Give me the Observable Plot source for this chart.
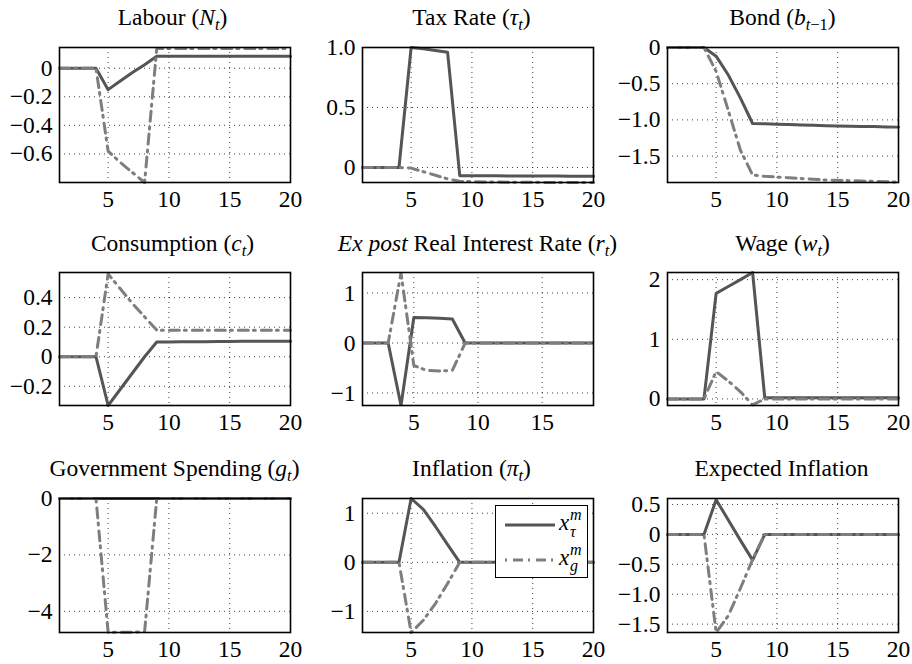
<!DOCTYPE html>
<html><head><meta charset="utf-8">
<script src="https://cdn.jsdelivr.net/npm/d3@7"></script>
<script src="https://cdn.jsdelivr.net/npm/@observablehq/plot@0.6"></script>
<style>
body{margin:0;background:#fff;}
#wrap{position:relative;width:912px;height:664px;overflow:hidden;font-family:"Liberation Serif",serif;color:#000;}
.title{position:absolute;font-size:23.5px;line-height:23.5px;white-space:nowrap;transform:translateX(-50%);}
.sub{font-size:0.7em;position:relative;top:0.32em;line-height:0;}
.panel{position:absolute;}
#legend{position:absolute;left:495px;top:505px;width:91px;height:71px;border:1.6px solid #000;background:#fff;}
.lg{position:absolute;font-style:italic;white-space:nowrap;}
</style></head><body><div id="wrap"></div><script>
// time periods
const periods = [1,2,3,4,5,6,7,8,9,10,11,12,13,14,15,16,17,18,19,20];
const xTicksStd = [5,10,15,20];

// series: x_tau^m (solid) and x_g^m (dash-dot)
const labourTau = [0,0,0,0,-0.15,-0.09,-0.03,0.025,0.083,0.083,0.083,0.083,0.083,0.083,0.083,0.083,0.083,0.083,0.083,0.083];
const labourG   = [0,0,0,0,-0.58,-0.66,-0.73,-0.80,0.138,0.138,0.138,0.138,0.138,0.138,0.138,0.138,0.138,0.138,0.138,0.138];

const taxTau = [0,0,0,0,1.0,0.99,0.975,0.96,-0.068,-0.068,-0.069,-0.069,-0.07,-0.07,-0.07,-0.071,-0.071,-0.072,-0.072,-0.072];
const taxG   = [0,0,0,0,-0.005,-0.035,-0.065,-0.095,-0.115,-0.118,-0.12,-0.121,-0.122,-0.123,-0.123,-0.124,-0.124,-0.125,-0.125,-0.125];

const bondTau = [0,0,0,0,-0.12,-0.38,-0.7,-1.05,-1.055,-1.06,-1.065,-1.07,-1.075,-1.08,-1.083,-1.087,-1.09,-1.093,-1.097,-1.1];
const bondG   = [0,0,0,0,-0.33,-0.87,-1.42,-1.76,-1.78,-1.79,-1.8,-1.81,-1.82,-1.83,-1.835,-1.84,-1.845,-1.85,-1.855,-1.86];

const consTau = [0,0,0,0,-0.33,-0.22,-0.11,0.0,0.1,0.1,0.101,0.102,0.102,0.103,0.103,0.104,0.104,0.105,0.105,0.105];
const consG   = [0,0,0,0,0.56,0.46,0.36,0.27,0.18,0.18,0.18,0.18,0.18,0.18,0.18,0.18,0.18,0.18,0.18,0.18];

const rateTau = [0,0,0,-1.25,0.51,0.505,0.495,0.48,0,0,0,0,0,0,0,0,0,0,0,0];
const rateG   = [0,0,0,1.4,-0.45,-0.55,-0.56,-0.55,0,0,0,0,0,0,0,0,0,0,0,0];

const wageTau = [0,0,0,0,1.77,1.885,2.0,2.12,0.02,0.02,0.02,0.02,0.02,0.02,0.02,0.02,0.02,0.02,0.02,0.02];
const wageG   = [0,0,0,0,0.46,0.3,0.12,-0.1,0,0,0,0,0,0,0,0,0,0,0,0];

const govTau = [0,0,0,0,0,0,0,0,0,0,0,0,0,0,0,0,0,0,0,0];
const govG   = [0,0,0,0,-4.74,-4.74,-4.74,-4.72,0,0,0,0,0,0,0,0,0,0,0,0];

const inflTau = [0,0,0,0,1.3,1.08,0.73,0.36,0,0,0,0,0,0,0,0,0,0,0,0];
const inflG   = [0,0,0,0,-1.43,-1.18,-0.84,-0.43,0,0,0,0,0,0,0,0,0,0,0,0];

const expTau = [0,0,0,0,0.58,0.24,-0.1,-0.43,0,0,0,0,0,0,0,0,0,0,0,0];
const expG   = [0,0,0,0,-1.64,-1.36,-0.9,-0.42,0,0,0,0,0,0,0,0,0,0,0,0];

// titles
const titles = [
  'Labour (<i>N</i><span class="sub"><i>t</i></span>)',
  'Tax Rate (<i>τ</i><span class="sub"><i>t</i></span>)',
  'Bond (<i>b</i><span class="sub"><i>t</i>−1</span>)',
  'Consumption (<i>c</i><span class="sub"><i>t</i></span>)',
  '<i>Ex post</i> Real Interest Rate (<i>r</i><span class="sub"><i>t</i></span>)',
  'Wage (<i>w</i><span class="sub"><i>t</i></span>)',
  'Government Spending (<i>g</i><span class="sub"><i>t</i></span>)',
  'Inflation (<i>π</i><span class="sub"><i>t</i></span>)',
  'Expected Inflation'
];
const titleShift = [-2, -6, 0, -2, 0, 0, 0, -6, -1];

const fmt1 = d => d === 0 ? "0" : d3.format(".1f")(d);
const fmt0 = d => d3.format("d")(d);

const colLeft = [59, 362, 667];
const rowTop = [47, 272, 498];
const rowH = [135, 133, 134];
const titleBase = [25, 251, 476];
const FW = 231;
const ML = 62, MR = 8, MT = 10, MB = 42;

const panels = [
  {tau: labourTau, g: labourG, yDomain: [-0.80, 0.145], yTicks: [-0.6,-0.4,-0.2,0], fmt: fmt1},
  {tau: taxTau, g: taxG, yDomain: [-0.125, 1.0], yTicks: [0,0.5,1.0], fmt: fmt1},
  {tau: bondTau, g: bondG, yDomain: [-1.865, 0], yTicks: [-1.5,-1.0,-0.5,0], fmt: fmt1},
  {tau: consTau, g: consG, yDomain: [-0.33, 0.57], yTicks: [-0.2,0,0.2,0.4], fmt: fmt1},
  {tau: rateTau, g: rateG, yDomain: [-1.25, 1.41], yTicks: [-1,0,1], fmt: fmt0, xDomain: [1,19], xTicks: [5,10,15], clip: true},
  {tau: wageTau, g: wageG, yDomain: [-0.11, 2.12], yTicks: [0,1,2], fmt: fmt0},
  {tau: govTau, g: govG, yDomain: [-4.75, 0], yTicks: [-4,-2,0], fmt: fmt0},
  {tau: inflTau, g: inflG, yDomain: [-1.43, 1.3], yTicks: [-1,0,1], fmt: fmt0},
  {tau: expTau, g: expG, yDomain: [-1.64, 0.6], yTicks: [-1.5,-1.0,-0.5,0,0.5], fmt: fmt1}
];

const wrap = document.getElementById("wrap");

panels.forEach((p, k) => {
  const r = Math.floor(k / 3), c = k % 3;
  const H = rowH[r];
  const xTicks = p.xTicks || xTicksStd;
  const xDomain = p.xDomain || [1, 20];
  const grid = {stroke: "#000", strokeOpacity: 0.75, strokeWidth: 1, strokeDasharray: "1,4"};
  const chart = Plot.plot({
    width: ML + FW + MR, height: MT + H + MB,
    marginLeft: ML, marginRight: MR, marginTop: MT, marginBottom: MB,
    style: {fontFamily: "Liberation Serif", fontSize: "23.5px", background: "transparent", overflow: "visible", color: "#000"},
    x: {domain: xDomain, label: null},
    y: {domain: p.yDomain, label: null},
    marks: [
      Plot.gridX(xTicks, grid),
      Plot.gridY(p.yTicks, grid),
      Plot.axisX(xTicks, {tickSize: 0, tickPadding: 8, label: null, tickFormat: d => String(d)}),
      Plot.axisY(p.yTicks.slice(), {tickSize: 0, tickPadding: 7, label: null, tickFormat: p.fmt}),
      Plot.line(p.tau, {x: (d, i) => periods[i], y: d => d, stroke: "#555", strokeWidth: 3, clip: !!p.clip}),
      Plot.line(p.g, {x: (d, i) => periods[i], y: d => d, stroke: "#7e7e7e", strokeWidth: 3, strokeDasharray: "10,5,2,6", clip: !!p.clip}),
      Plot.frame({stroke: "#000", strokeWidth: 1.6})
    ]
  });
  chart.classList.add("panel");
  chart.style.left = (colLeft[c] - ML) + "px";
  chart.style.top = (rowTop[r] - MT) + "px";
  chart.style.zIndex = String(10 - c);
  wrap.appendChild(chart);

  const t = document.createElement("div");
  t.className = "title";
  t.innerHTML = titles[k];
  t.style.left = (colLeft[c] + FW / 2 + titleShift[k]) + "px";
  t.style.top = (titleBase[r] - 19.5) + "px";
  t.style.zIndex = "20";
  wrap.appendChild(t);
});

// legend (in the Inflation panel)
const legend = document.createElement("div");
legend.id = "legend";
legend.style.zIndex = "30";
legend.innerHTML = `
<svg width="62" height="71" style="position:absolute;left:0;top:0">
  <line x1="9" x2="59" y1="19" y2="19" stroke="#555" stroke-width="3"/>
  <line x1="9" x2="59" y1="54" y2="54" stroke="#7e7e7e" stroke-width="3" stroke-dasharray="2,6,10,5"/>
</svg>
<span class="lg" style="left:63px;top:5px;font-size:23px;line-height:23px">x</span>
<span class="lg" style="left:74px;top:1px;font-size:16px;line-height:16px">m</span>
<span class="lg" style="left:74px;top:18px;font-size:16px;line-height:16px">τ</span>
<span class="lg" style="left:63px;top:40px;font-size:23px;line-height:23px">x</span>
<span class="lg" style="left:74px;top:36px;font-size:16px;line-height:16px">m</span>
<span class="lg" style="left:74px;top:52px;font-size:16px;line-height:16px">g</span>
`;
wrap.appendChild(legend);
</script></body></html>
